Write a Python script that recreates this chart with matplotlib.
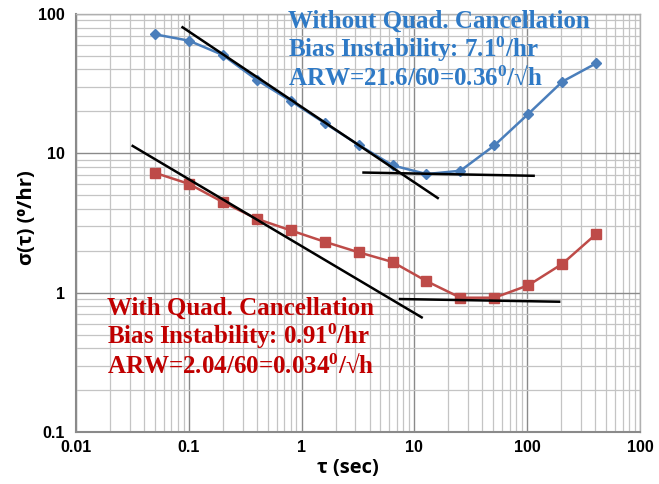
import matplotlib
matplotlib.use("Agg")
from matplotlib import pyplot as plt
from matplotlib.ticker import LogLocator, FixedLocator, FixedFormatter, NullFormatter

# Averaging times (sec)
tau = [0.05, 0.1, 0.2, 0.4, 0.8, 1.6, 3.2, 6.4, 12.8, 25.6, 51.2, 102.4, 204.8, 409.6]

# Allan deviation without quadrature cancellation (deg/hr)
sigma_no_quad = [71.5, 64.4, 50.8, 33.7, 23.8, 16.5, 11.5, 8.2, 7.1, 7.5, 11.4, 19.2, 32.7, 44.3]

# Allan deviation with quadrature cancellation (deg/hr)
sigma_quad = [7.25, 6.04, 4.47, 3.39, 2.80, 2.32, 1.95, 1.66, 1.21, 0.92, 0.92, 1.13, 1.61, 2.64]

# Fitted lines (ARW slope and bias instability floor), endpoints
arw_no_quad_x = [0.088, 16.1]
arw_no_quad_y = [80.3, 4.78]
bias_no_quad_x = [3.54, 114]
bias_no_quad_y = [7.28, 6.9]
arw_quad_x = [0.0318, 11.6]
arw_quad_y = [11.3, 0.665]
bias_quad_x = [7.46, 192]
bias_quad_y = [0.90, 0.861]

x_ticks = [0.01, 0.1, 1, 10, 100, 1000]
x_tick_labels = ["0.01", "0.1", "1", "10", "100", "100"]
y_ticks = [0.1, 1, 10, 100]
y_tick_labels = ["0.1", "1", "10", "100"]

blue = "#4a7ebb"
red = "#be4b48"
text_blue = "#2f7ac6"
text_red = "#c00000"

plt.rcParams["mathtext.fontset"] = "custom"
plt.rcParams["mathtext.rm"] = "Liberation Serif:bold"
plt.rcParams["mathtext.it"] = "Liberation Serif:bold"
plt.rcParams["mathtext.bf"] = "Liberation Serif:bold"
plt.rcParams["mathtext.default"] = "rm"

W, H = 659, 484
fig = plt.figure(figsize=(W / 100, H / 100), dpi=100)
ax = fig.add_axes([76 / W, 1 - 432 / H, (640 - 76) / W, (432 - 14) / H])

ax.set_xscale("log")
ax.set_yscale("log")
ax.set_xlim(0.01, 1000)
ax.set_ylim(0.1, 100)

# Grid: darker major lines, lighter minor lines
ax.xaxis.set_minor_locator(LogLocator(base=10, subs=range(2, 10)))
ax.yaxis.set_minor_locator(LogLocator(base=10, subs=range(2, 10)))
ax.xaxis.set_minor_formatter(NullFormatter())
ax.yaxis.set_minor_formatter(NullFormatter())
ax.grid(which="major", color="#8a8a8a", linewidth=1.0)
ax.grid(which="minor", color="#c4c4c4", linewidth=0.9)
ax.set_axisbelow(True)

ax.xaxis.set_major_locator(FixedLocator(x_ticks))
ax.xaxis.set_major_formatter(FixedFormatter(x_tick_labels))
ax.yaxis.set_major_locator(FixedLocator(y_ticks))
ax.yaxis.set_major_formatter(FixedFormatter(y_tick_labels))
ax.tick_params(which="both", length=0)
ax.tick_params(axis="x", pad=6)
ax.tick_params(axis="y", pad=8)
for lab in ax.get_xticklabels() + ax.get_yticklabels():
    lab.set_fontfamily("Liberation Sans")
    lab.set_fontweight("bold")
    lab.set_fontsize(11.5)

for side in ["left", "bottom"]:
    ax.spines[side].set_color("#8a8a8a")
    ax.spines[side].set_linewidth(1.5)
for side in ["top", "right"]:
    ax.spines[side].set_color("#b0b0b0")
    ax.spines[side].set_linewidth(1.0)

# Data curves
ax.plot(tau, sigma_no_quad, color=blue, linewidth=1.8, marker="D",
        markersize=5, zorder=3)
ax.plot(tau, sigma_quad, color=red, linewidth=1.8, marker="s",
        markersize=7, zorder=3)

# Fit lines
for xs, ys in [(arw_no_quad_x, arw_no_quad_y), (bias_no_quad_x, bias_no_quad_y),
               (arw_quad_x, arw_quad_y), (bias_quad_x, bias_quad_y)]:
    ax.plot(xs, ys, color="black", linewidth=1.8, zorder=4)

# Axis labels (placed in pixel positions like the reference)
sans = ["Open Sans", "DejaVu Sans"]
fig.text(27 / W, 1 - 218 / H, "σ(τ) (⁰/hr)", fontfamily=sans,
         fontweight="bold", fontsize=14.5, rotation=90, ha="center", va="center")
fig.text(348 / W, 1 - 468 / H, "τ (sec)", fontfamily=sans,
         fontweight="bold", fontsize=14.5, ha="center", va="center")

# Annotations
serif = ["Liberation Serif", "DejaVu Serif"]
blue_lines = ["Without Quad. Cancellation",
              "Bias Instability: 7.1$^{0}$/hr",
              "ARW=21.6/60=0.36$^{0}$/√h"]
for i, s in enumerate(blue_lines):
    fig.text(288 / W, 1 - (28 + 28.5 * i) / H, s, color=text_blue,
             fontfamily=serif, fontweight="bold", fontsize=18, va="baseline")

red_lines = ["With Quad. Cancellation",
             "Bias Instability: 0.91$^{0}$/hr",
             "ARW=2.04/60=0.034$^{0}$/√h"]
for i, s in enumerate(red_lines):
    fig.text(107 / W, 1 - (315 + 29 * i) / H, s, color=text_red,
             fontfamily=serif, fontweight="bold", fontsize=18, va="baseline")

fig.savefig("out.png", dpi=100)
